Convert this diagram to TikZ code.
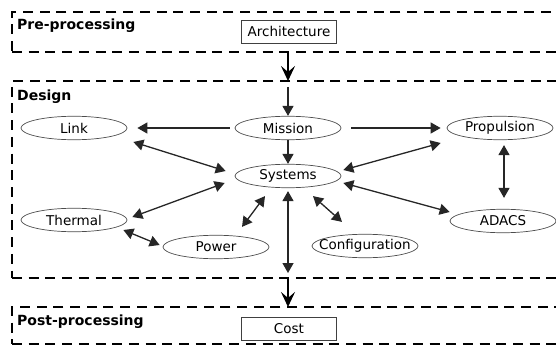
\documentclass[tikz,border=0pt]{standalone}
\usepackage{fontspec}
\setmainfont{DejaVu Sans}
\usetikzlibrary{arrows.meta,shapes.geometric}

\begin{document}
\begin{tikzpicture}[
  x=1pt, y=-1pt,
  font=\fontsize{13.5}{15}\selectfont,
  frame/.style={draw, line width=2.5pt, dash pattern=on 10pt off 6.7pt, rectangle,
    anchor=north west, minimum width=600pt, outer sep=0pt, inner sep=0pt},
  stage/.style={anchor=base west, inner sep=0pt, font=\fontsize{14}{16}\selectfont\bfseries},
  task/.style={draw=black!75, line width=0.9pt, rectangle, minimum width=95pt, minimum height=23pt, inner sep=0pt},
  disc/.style={draw=black!70, line width=0.7pt, ellipse, minimum width=106pt, minimum height=23.5pt,
    inner xsep=-16pt, inner ysep=0pt},
  link/.style={line width=1.3pt, black!85, -{Triangle[length=10pt,width=11pt]}},
  both/.style={link, {Triangle[length=10pt,width=11pt]}-{Triangle[length=10pt,width=11pt]}},
  flow/.style={line width=2.6pt, -{Stealth[length=15pt,width=14pt,inset=6pt]}}
]
\useasboundingbox (0,0) rectangle (556,350);
\clip (0,0) rectangle (556,350);

\node[frame, minimum height=40pt] (pre) at (12,12) {};
\node[frame, minimum height=197pt] (design) at (12,81) {};
\node[frame, minimum height=37pt] (post) at (12,307) {};

\node[stage] at (17,30) {Pre-processing};
\node[stage] at (17,100) {Design};
\node[stage] at (17,325) {Post-processing};

\node[task] (arch) at (289,31.5) {Architecture};
\node[task] (cost) at (289,328.5) {Cost};

\node[disc] (mission) at (288,128) {Mission};
\node[disc] (link) at (74,128) {Link};
\node[disc] (prop) at (500,128) {Propulsion};
\node[disc] (sys) at (288,176) {Systems};
\node[disc] (therm) at (74,220) {Thermal};
\node[disc] (adacs) at (503,221) {ADACS};
\node[disc] (power) at (216,247) {Power};
\node[disc] (config) at (365,246) {Configuration};

\draw[flow] (mission |- pre.south) -- (mission |- design.north);
\draw[flow] (mission |- design.south) -- (mission |- post.north);

\draw[link, shorten <=6pt] (mission |- design.north) -- (mission.north);
\draw[link] (mission) -- (sys);
\draw[link, shorten <=5pt, shorten >=10pt] (mission) -- (link);
\draw[link, shorten <=10pt, shorten >=6pt] (mission) -- (prop);

\draw[both] ([shift={(6,14)}]link.east) -- ([shift={(-9,-5)}]sys.west);
\draw[both] ([shift={(5,-3)}]therm.east) -- ([shift={(-10,7)}]sys.west);
\draw[both] ([shift={(-4,10)}]therm.east) -- ([shift={(-3,-2)}]power.west);
\draw[both] ([shift={(26,-8)}]power.north) -- ([shift={(-23,8)}]sys.south);
\draw[both, shorten <=3pt, shorten >=5pt] (sys.south) -- (sys.south |- design.south);
\draw[both] ([shift={(25,8)}]sys.south) -- ([shift={(-23,-12)}]config.north);
\draw[both] ([shift={(2,-6)}]sys.east) -- ([shift={(-6,15)}]prop.west);
\draw[both] ([shift={(2,7)}]sys.east) -- ([shift={(0,-9)}]adacs.west);
\draw[both] ([shift={(4,5)}]prop.south) -- ([shift={(1,-11)}]adacs.north);
\end{tikzpicture}
\end{document}
